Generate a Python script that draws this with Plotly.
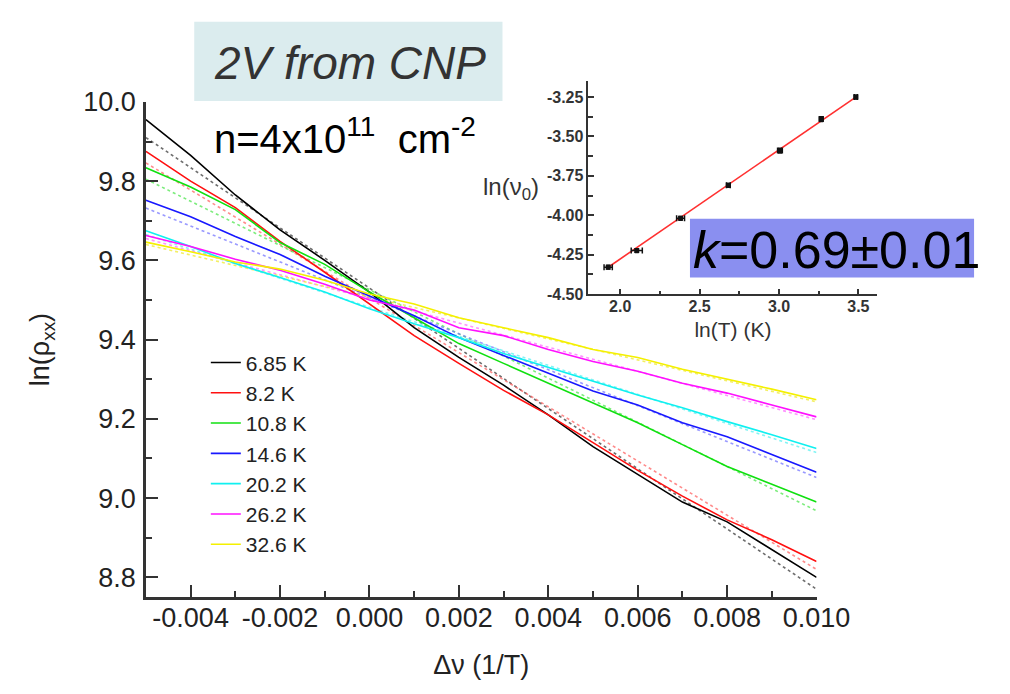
import plotly.graph_objects as go

FONT = "Liberation Sans, Arial, Helvetica, sans-serif"

# ---------------- main panel data ----------------
delta_nu = [-0.005, -0.004, -0.003, -0.002, -0.001, 0.000, 0.001, 0.002,
            0.003, 0.004, 0.005, 0.006, 0.007, 0.008, 0.009, 0.010]

temps = ["6.85 K", "8.2 K", "10.8 K", "14.6 K", "20.2 K", "26.2 K", "32.6 K"]
colors = ["#000000", "#ff1010", "#10e010", "#1818ff", "#10f0f0", "#ff10ff", "#f4f000"]

ln_rho_685 = [9.955, 9.865, 9.765, 9.677, 9.600, 9.520, 9.430, 9.355,
              9.285, 9.210, 9.130, 9.060, 8.990, 8.940, 8.870, 8.800]
ln_rho_82 = [9.875, 9.800, 9.733, 9.648, 9.570, 9.490, 9.410, 9.340,
             9.272, 9.210, 9.140, 9.070, 9.005, 8.945, 8.895, 8.840]
ln_rho_108 = [9.834, 9.785, 9.728, 9.645, 9.590, 9.520, 9.455, 9.390,
              9.340, 9.290, 9.240, 9.190, 9.135, 9.080, 9.035, 8.990]
ln_rho_146 = [9.752, 9.710, 9.660, 9.615, 9.560, 9.510, 9.460, 9.405,
              9.360, 9.315, 9.270, 9.235, 9.190, 9.155, 9.110, 9.065]
ln_rho_202 = [9.675, 9.635, 9.592, 9.557, 9.520, 9.478, 9.440, 9.405,
              9.365, 9.330, 9.295, 9.260, 9.228, 9.193, 9.160, 9.125]
ln_rho_262 = [9.663, 9.635, 9.603, 9.575, 9.540, 9.500, 9.475, 9.430,
              9.410, 9.375, 9.345, 9.320, 9.290, 9.265, 9.235, 9.205]
ln_rho_326 = [9.646, 9.622, 9.596, 9.578, 9.550, 9.515, 9.490, 9.455,
              9.430, 9.405, 9.375, 9.355, 9.325, 9.300, 9.275, 9.248]

series = [ln_rho_685, ln_rho_82, ln_rho_108, ln_rho_146, ln_rho_202, ln_rho_262, ln_rho_326]

# linear fits (dotted): values at the two ends of the x range
fit_x = [-0.005, 0.010]
fit_start = [9.910, 9.846, 9.805, 9.732, 9.665, 9.655, 9.640]
fit_end = [8.770, 8.820, 8.968, 9.052, 9.115, 9.198, 9.243]
fit_colors = ["rgba(60,60,60,0.75)", "rgba(255,90,90,0.7)", "rgba(80,230,80,0.75)",
              "rgba(110,110,255,0.7)", "rgba(90,240,240,0.75)", "rgba(255,100,255,0.7)",
              "rgba(240,235,60,0.8)"]

# ---------------- inset data ----------------
ln_T = [1.924, 2.104, 2.380, 2.681, 3.006, 3.266, 3.484]
ln_nu0 = [-4.33, -4.224, -4.02, -3.81, -3.59, -3.39, -3.25]
ln_T_err = [0.026, 0.035, 0.025, 0.012, 0.015, 0.012, 0.010]
ln_nu0_err = [0.012, 0.012, 0.012, 0.012, 0.015, 0.015, 0.012]
inset_fit_x = [1.924, 3.484]
inset_fit_y = [-4.33, -3.25]

fig = go.Figure()

for i in range(len(series)):
    fig.add_trace(go.Scatter(
        x=fit_x, y=[fit_start[i], fit_end[i]], mode="lines",
        line=dict(color=fit_colors[i], width=1.6, dash="dot"),
        showlegend=False, hoverinfo="skip", xaxis="x", yaxis="y"))

for i in range(len(series)):
    fig.add_trace(go.Scatter(
        x=delta_nu, y=series[i], mode="lines", name=temps[i],
        line=dict(color=colors[i], width=1.6),
        xaxis="x", yaxis="y"))

fig.add_trace(go.Scatter(
    x=inset_fit_x, y=inset_fit_y, mode="lines",
    line=dict(color="#ff3030", width=1.6),
    showlegend=False, xaxis="x2", yaxis="y2"))
fig.add_trace(go.Scatter(
    x=ln_T, y=ln_nu0, mode="markers",
    marker=dict(symbol="square", size=5, color="#111111"),
    error_x=dict(type="data", array=ln_T_err, color="#111111", thickness=1.5, width=3),
    error_y=dict(type="data", array=ln_nu0_err, color="#111111", thickness=1.5, width=2),
    showlegend=False, xaxis="x2", yaxis="y2"))

W, H = 1010, 694
def px_x(p):
    return p / W
def px_y(p):
    return (H - p) / H

main_tickfont = dict(family=FONT, size=27, color="#222222")
inset_tickfont = dict(family=FONT, size=16, color="#333333", weight="bold")

fig.update_layout(
    width=W, height=H,
    margin=dict(l=0, r=0, t=0, b=0),
    paper_bgcolor="white", plot_bgcolor="rgba(0,0,0,0)",
    font=dict(family=FONT, color="#222222"),
    xaxis=dict(
        domain=[px_x(151), px_x(845)], range=[-0.005, 0.010],
        tickvals=[-0.004, -0.002, 0.000, 0.002, 0.004, 0.006, 0.008, 0.010],
        ticktext=["-0.004", "-0.002", "0.000", "0.002", "0.004", "0.006", "0.008", "0.010"],
        ticks="inside", ticklen=12, tickwidth=2, tickcolor="#333333",
        minor=dict(tickvals=[-0.005, -0.003, -0.001, 0.001, 0.003, 0.005, 0.007, 0.009],
                   ticks="inside", ticklen=6, tickwidth=2, tickcolor="#333333"),
        showline=True, linecolor="#333333", linewidth=2.5, showgrid=False, zeroline=False,
        tickfont=main_tickfont, ticklabelstandoff=-5,
        title=dict(text="Δν (1/T)", font=dict(family=FONT, size=27, color="#222222"), standoff=23),
        anchor="y"),
    yaxis=dict(
        domain=[px_y(603), px_y(90)], range=[8.75, 10.0],
        tickvals=[8.8, 9.0, 9.2, 9.4, 9.6, 9.8, 10.0],
        ticktext=["8.8", "9.0", "9.2", "9.4", "9.6", "9.8", "10.0"],
        ticks="inside", ticklen=12, tickwidth=2, tickcolor="#333333",
        minor=dict(tickvals=[8.9, 9.1, 9.3, 9.5, 9.7, 9.9],
                   ticks="inside", ticklen=6, tickwidth=2, tickcolor="#333333"),
        showline=True, linecolor="#333333", linewidth=2.5, showgrid=False, zeroline=False,
        tickfont=main_tickfont, ticklabelstandoff=2,
        title=dict(text="ln(ρ<sub>xx</sub>)", font=dict(family=FONT, size=27, color="#222222"), standoff=26),
        anchor="x"),
    xaxis2=dict(
        domain=[px_x(609), px_x(908)], range=[1.8, 3.62],
        tickvals=[2.0, 2.5, 3.0, 3.5], ticktext=["2.0", "2.5", "3.0", "3.5"],
        ticks="inside", ticklen=5, tickwidth=1.5, tickcolor="#333333",
        minor=dict(tickvals=[2.25, 2.75, 3.25], ticks="inside", ticklen=3,
                   tickwidth=1.5, tickcolor="#333333"),
        showline=True, linecolor="#333333", linewidth=1.8, showgrid=False, zeroline=False,
        tickfont=inset_tickfont, ticklabelstandoff=-3,
        title=dict(text="ln(T) (K)", font=dict(family=FONT, size=21, color="#333333"), standoff=8),
        anchor="y2"),
    yaxis2=dict(
        domain=[px_y(289), px_y(68)], range=[-4.5, -3.146],
        tickvals=[-4.5, -4.25, -4.0, -3.75, -3.5, -3.25],
        ticktext=["-4.50", "-4.25", "-4.00", "-3.75", "-3.50", "-3.25"],
        ticks="inside", ticklen=6, tickwidth=1.5, tickcolor="#333333",
        minor=dict(tickvals=[-4.375, -4.125, -3.875, -3.625, -3.375], ticks="inside",
                   ticklen=5, tickwidth=1.5, tickcolor="#333333"),
        showline=True, linecolor="#333333", linewidth=1.8, showgrid=False, zeroline=False,
        tickfont=inset_tickfont, ticklabelstandoff=0,
        anchor="x2"),
    legend=dict(
        x=px_x(213), y=px_y(339), xanchor="left", yanchor="top",
        bgcolor="rgba(0,0,0,0)", borderwidth=0,
        font=dict(family=FONT, size=21, color="#222222"),
        tracegroupgap=0, itemwidth=30),
    shapes=[
        dict(type="rect", xref="paper", yref="paper",
             x0=px_x(201), x1=px_x(520), y0=px_y(89), y1=px_y(7),
             fillcolor="#dbecee", line=dict(width=0), layer="below"),
        dict(type="rect", xref="paper", yref="paper",
             x0=px_x(714), x1=px_x(1008), y0=px_y(272), y1=px_y(211),
             fillcolor="#8a8ff0", line=dict(width=0), layer="above"),
    ],
    annotations=[
        dict(text="<i>2V from CNP</i>", xref="paper", yref="paper",
             x=px_x(362), y=px_y(50), xanchor="center", yanchor="middle",
             showarrow=False, font=dict(family=FONT, size=46, color="#333333")),
        dict(text="n=4x10<sup>11</sup>&nbsp; cm<sup>-2</sup>", xref="paper", yref="paper",
             x=px_x(219), y=px_y(125), xanchor="left", yanchor="middle",
             showarrow=False, font=dict(family=FONT, size=40, color="#000000")),
        dict(text="<i>k</i>=0.69±0.01", xref="paper", yref="paper",
             x=px_x(715), y=px_y(243), xanchor="left", yanchor="middle",
             showarrow=False, font=dict(family=FONT, size=52, color="#000000")),
        dict(text="ln(ν<sub>0</sub>)", xref="paper", yref="paper",
             x=px_x(529), y=px_y(180), xanchor="center", yanchor="middle",
             showarrow=False, font=dict(family=FONT, size=24, color="#333333")),
    ],
)

fig.write_html("out.html")
